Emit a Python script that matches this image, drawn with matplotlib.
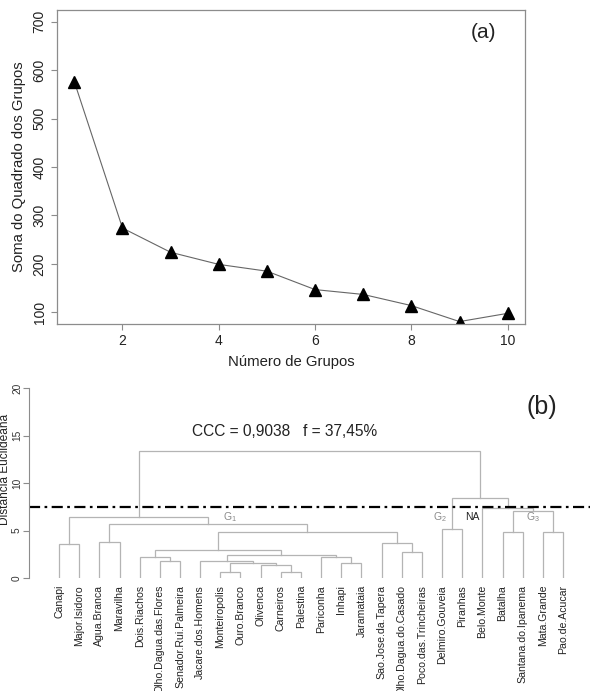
import matplotlib
matplotlib.use('Agg')
import matplotlib.pyplot as plt

plt.rcParams['font.family'] = ['Liberation Sans', 'DejaVu Sans']
plt.rcParams['mathtext.default'] = 'regular'

# (a) within-group sum of squares vs number of groups
n_groups = [1, 2, 3, 4, 5, 6, 7, 8, 9, 10]
wss = [576, 274, 224, 199, 185, 147, 137, 114, 81, 98]

# (b) dendrogram: leaves in plotted order, merges (left, right, height)
# a child is either a leaf name or the index of an earlier merge
leaves = ['Canapi', 'Major.Isidoro', 'Agua.Branca', 'Maravilha', 'Dois.Riachos',
          'Olho.Dagua.das.Flores', 'Senador.Rui.Palmeira', 'Jacare.dos.Homens',
          'Monteiropolis', 'Ouro.Branco', 'Olivenca', 'Carneiros', 'Palestina',
          'Pariconha', 'Inhapi', 'Jaramataia', 'Sao.Jose.da.Tapera',
          'Olho.Dagua.do.Casado', 'Poco.das.Trincheiras', 'Delmiro.Gouveia',
          'Piranhas', 'Belo.Monte', 'Batalha', 'Santana.do.Ipanema',
          'Mata.Grande', 'Pao.de.Acucar']
merge_left = ['Monteiropolis', 'Carneiros', 'Olivenca', 0, 'Inhapi',
              'Jacare.dos.Homens', 'Olho.Dagua.das.Flores', 'Pariconha',
              'Dois.Riachos', 5, 'Olho.Dagua.do.Casado', 8, 'Canapi',
              'Sao.Jose.da.Tapera', 'Agua.Branca', 11, 'Batalha', 'Mata.Grande',
              'Delmiro.Gouveia', 14, 12, 16, 'Belo.Monte', 18, 20]
merge_right = ['Ouro.Branco', 'Palestina', 1, 2, 'Jaramataia', 3,
               'Senador.Rui.Palmeira', 4, 6, 7, 'Poco.das.Trincheiras', 9,
               'Major.Isidoro', 10, 'Maravilha', 13, 'Santana.do.Ipanema',
               'Pao.de.Acucar', 'Piranhas', 15, 19, 17, 21, 22, 23]
merge_height = [0.65, 0.65, 1.4, 1.6, 1.6, 1.8, 1.8, 2.2, 2.25, 2.4, 2.7, 3.0,
                3.6, 3.7, 3.8, 4.85, 4.8, 4.8, 5.15, 5.65, 6.4, 7.05, 7.35,
                8.4, 13.4]
cut_height = 7.5
group_labels = ['G$_1$', 'G$_2$', 'NA', 'G$_3$']
group_label_x = [8.5, 18.9, 20.5, 23.5]

fig = plt.figure(figsize=(5.9, 6.91), dpi=100)
W, H = 590, 691

# ---------- panel (a) ----------
ax1 = fig.add_axes([57 / W, 1 - 324 / H, 468 / W, 314 / H])
ax1.plot(n_groups, wss, color='#666666', lw=0.8, marker='^', markersize=8.5,
         markerfacecolor='black', markeredgecolor='black')
ax1.set_xlim(0.64, 10.36)
ax1.set_ylim(76, 724)
ax1.set_xticks([2, 4, 6, 8, 10])
ax1.set_yticks([100, 200, 300, 400, 500, 600, 700])
for s in ax1.spines.values():
    s.set_color('#8c8c8c')
    s.set_linewidth(0.9)
ax1.tick_params(colors='#8c8c8c', labelcolor='#222222', labelsize=10, length=4, width=0.8)
for lab in ax1.get_yticklabels():
    lab.set_rotation(90)
    lab.set_va('center')
ax1.set_xlabel('Número de Grupos', fontsize=10.7, color='#222222', labelpad=5)
ax1.set_ylabel('Soma do Quadrado dos Grupos', fontsize=10.7, color='#222222', labelpad=5)
ax1.text(484 / W, 1 - 33 / H, '(a)', transform=fig.transFigure, fontsize=15,
         ha='center', va='center', color='#222222')

# ---------- panel (b) ----------
ax2 = fig.add_axes([29 / W, 1 - 578 / H, 561 / W, 190 / H])
leaf_x = list(range(len(leaves)))
node_x, node_h = [], []


def child(c):
    if isinstance(c, str):
        return leaf_x[leaves.index(c)], 0.0
    return node_x[c], node_h[c]


for l, r, h in zip(merge_left, merge_right, merge_height):
    xl, hl = child(l)
    xr, hr = child(r)
    ax2.plot([xl, xl, xr, xr], [hl, h, h, hr], color='#b4b4b4', lw=0.9,
             solid_joinstyle='miter')
    node_x.append((xl + xr) / 2)
    node_h.append(h)

ax2.axhline(cut_height, color='black', lw=1.6, linestyle=(0, (5, 2, 1.2, 2)))
for lab, gx in zip(group_labels, group_label_x):
    col = '#222222' if lab == 'NA' else '#8a8a8a'
    ax2.text(gx, 6.4, lab, fontsize=7.5, color=col, ha='center', va='center')

ax2.set_xlim(-1.49, 26.34)
ax2.set_ylim(0, 20)
ax2.set_xticks(leaf_x)
ax2.set_xticklabels(leaves, rotation=90, fontsize=7.6, color='#222222')
ax2.set_yticks([0, 5, 10, 15, 20])
ax2.tick_params(axis='x', length=0, pad=5)
ax2.tick_params(axis='y', colors='#8c8c8c', labelcolor='#333333', labelsize=7.3,
                length=4, width=0.8, pad=1)
for lab in ax2.get_yticklabels():
    lab.set_rotation(90)
    lab.set_va('center')
for side in ['top', 'right', 'bottom']:
    ax2.spines[side].set_visible(False)
ax2.spines['left'].set_color('#8c8c8c')
ax2.spines['left'].set_linewidth(0.8)
fig.text(5.5 / W, 1 - 469 / H, 'Distância Euclideana', rotation=90, fontsize=8.6,
         ha='center', va='center', color='#222222')
fig.text(285 / W, 1 - 431 / H, 'CCC = 0,9038   f = 37,45%', fontsize=11.2,
         ha='center', va='center', color='#222222')
fig.text(542 / W, 1 - 407 / H, '(b)', fontsize=18, ha='center', va='center',
         color='#222222')

fig.savefig('out.png', dpi=100)
